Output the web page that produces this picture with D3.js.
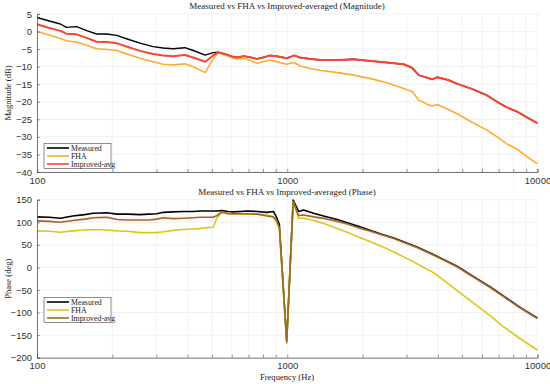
<!DOCTYPE html>
<html>
<head>
<meta charset="utf-8">
<script src="https://d3js.org/d3.v7.min.js"></script>
<style>
body{margin:0;background:#fff;}
svg{display:block;}
</style>
</head>
<body>
<script>
// magnitude data (dB)
var magFreq = [100,112,124,131,144,158,173,190,208,231,258,291,319,350,390,421,470,506,530,570,609,631,670,710,756,800,855,920,996,1030,1067,1122,1240,1358,1600,1838,2153,2500,2915,3152,3350,3600,3795,3980,4400,4788,5500,6255,6900,7540,8290,9000,9980];
var magImproved = [2.1,1.0,0.2,-0.6,-0.8,-1.8,-2.9,-3.0,-3.3,-4.4,-5.5,-6.4,-6.8,-7.0,-6.7,-7.4,-8.6,-6.8,-5.9,-6.5,-7.2,-7.4,-7.0,-7.3,-7.8,-7.4,-6.8,-7.1,-7.6,-7.2,-6.8,-7.4,-7.8,-8.1,-8.1,-7.9,-8.4,-8.8,-9.3,-10.3,-12.4,-13.1,-13.6,-13.0,-13.8,-14.9,-16.4,-18.1,-20.0,-21.6,-22.8,-24.3,-26.1];
var magMeasured = [4.0,3.0,2.15,1.2,1.4,0.25,-0.7,-0.7,-1.1,-2.2,-3.3,-4.3,-4.7,-4.9,-4.6,-5.4,-6.7,-6.0,-5.9,-6.5,-7.2,-7.4,-7.0,-7.3,-7.8,-7.4,-6.8,-7.1,-7.6,-7.2,-6.8,-7.4,-7.8,-8.1,-8.1,-7.9,-8.4,-8.8,-9.3,-10.3,-12.4,-13.1,-13.6,-13.0,-13.8,-14.9,-16.4,-18.1,-20.0,-21.6,-22.8,-24.3,-26.1];
var magFHA = [0,-1.0,-2.0,-2.6,-3.0,-3.9,-4.9,-5.1,-5.4,-6.5,-7.6,-8.6,-9.3,-9.5,-9.2,-10.0,-11.7,-7.8,-6.0,-6.8,-7.6,-7.9,-7.6,-8.2,-9.0,-8.6,-8.1,-8.7,-9.3,-9.0,-8.8,-9.8,-10.5,-11.1,-11.7,-12.4,-13.4,-14.6,-16.2,-17.1,-19.5,-20.6,-21.2,-20.8,-22.2,-23.5,-25.9,-28.0,-30.0,-32.0,-33.5,-35.5,-37.7];

// phase data (deg)
var phFreq = [100,112,124,139,155,168,190,209,230,258,280,301,320,350,385,420,450,470,506,524,548,580,610,650,690,760,830,880,905,930,995,1056,1110,1163,1275,1420,1583,1737,1950,2153,2400,2666,3000,3300,3855,4300,4790,5760,6500,7300,8540,9980];
var phMeasured = [112,111,109,114,117,120,121,118,118,117,118,119,122,123,124,124,125,125,125,125,126,124,123,124,125,124,122,124,112,95,-163,149,124,127,120,113,106,99,90,82,73,65,54,45,28,15,2,-26,-44,-63,-89,-112];
var phImproved = [103,102,100,104,107,110,111,106,105,105,105,107,110,108,109,110,111,111,111,115,123,119,119,119,119,118,114,112,105,88,-165,146,115,116,112,108,102,96,87,80,72,64,53,44,27,14,1,-27,-45,-64,-90,-113];
var phFHA = [81,80,78,81,83,84,83,81,80,77,77,77,79,82,84,85,86,88,89,110,121,120,118,118,118,118,116,112,100,86,-168,146,109,109,104,96,86,78,66,57,46,34,20,8,-12,-32,-52,-86,-108,-131,-158,-183];

var magTicks = [5,0,-5,-10,-15,-20,-25,-30,-35,-40];
var phTicks = [150,100,50,0,-50,-100,-150,-200];
var legendNames = ["Measured","FHA","Improved-avg"];

var W = 550, H = 384;
var svg = d3.select("body").append("svg").attr("width", W).attr("height", H);

var x = d3.scaleLog().domain([100,10000]).range([37,537.5]);
var minorTicks = [];
[100,1000].forEach(function(dec){
    for(var k=1;k<10;k++){ minorTicks.push(dec*k); }
});
minorTicks.push(10000);

function drawPanel(opt){
    var y = d3.scaleLinear().domain(opt.domain).range([opt.bottom, opt.top]);
    var g = svg.append("g");

    // grid
    g.selectAll("line.gy").data(opt.ticks).enter().append("line")
        .attr("x1", x.range()[0]).attr("x2", x.range()[1])
        .attr("y1", function(d){return y(d);}).attr("y2", function(d){return y(d);})
        .attr("stroke", "#e9e9e9").attr("stroke-width", 0.7);
    g.selectAll("line.gx").data(minorTicks).enter().append("line")
        .attr("x1", function(d){return x(d);}).attr("x2", function(d){return x(d);})
        .attr("y1", opt.top).attr("y2", opt.bottom)
        .attr("stroke", "#ececec").attr("stroke-width", 0.7);

    // faint band round the averaged curve
    if(opt.band){
        var area = d3.area()
            .x(function(d,i){return x(opt.freq[i]);})
            .y0(function(d){return y(d[0]);})
            .y1(function(d){return y(d[1]);});
        var imp = opt.series[2].values;
        var bandData = opt.freq.map(function(f,i){
            return [imp[i]-8, imp[i]+8];
        });
        g.append("path").attr("d", area(bandData))
            .attr("fill", "#ff4fc8").attr("fill-opacity", 0.05);
    }

    // lines
    var line = d3.line()
        .x(function(d,i){return x(opt.freq[i]);})
        .y(function(d){return y(d);});
    opt.series.forEach(function(s){
        g.append("path").attr("d", line(s.values))
            .attr("fill", "none").attr("stroke", s.colour)
            .attr("stroke-width", s.w || 1.6).attr("stroke-linejoin", "round");
    });

    // axes
    var yAxis = d3.axisLeft(y).tickValues(opt.ticks).tickSize(-3).tickPadding(5)
        .tickFormat(function(d){return d3.format("")(d).replace("-", "\u2212");});
    var ya = g.append("g").attr("transform", "translate(" + x.range()[0] + ",0)").call(yAxis);
    var xAxis = d3.axisBottom(x).tickValues(minorTicks).tickSize(-3).tickPadding(5)
        .tickFormat(function(d){return (d==100||d==1000||d==10000) ? d : "";});
    var xa = g.append("g").attr("transform", "translate(0," + opt.bottom + ")").call(xAxis);
    [ya, xa].forEach(function(a){
        a.select(".domain").attr("stroke", "#555").attr("stroke-width", 0.8);
        a.selectAll(".tick line").attr("stroke", "#555").attr("stroke-width", 0.6);
        a.selectAll(".tick text").attr("fill", "#333")
            .style("font-family", "'Liberation Sans', Arial, sans-serif").style("font-size", "9.5px");
    });

    // title
    g.append("text").attr("x", 287).attr("y", opt.top - 5).attr("text-anchor", "middle")
        .style("font-family", "'Liberation Serif', 'Times New Roman', serif").style("font-size", "9px")
        .attr("fill", "#222").text(opt.title);
    // y label
    g.append("text").attr("transform", "translate(11," + ((opt.top+opt.bottom)/2) + ") rotate(-90)")
        .attr("text-anchor", "middle")
        .style("font-family", "'Liberation Serif', 'Times New Roman', serif").style("font-size", "8.6px")
        .attr("fill", "#222").text(opt.ylabel);

    // legend
    var lg = g.append("g").attr("transform", "translate(44," + opt.legendY + ")");
    lg.append("rect").attr("width", 67).attr("height", 25)
        .attr("fill", "#fff").attr("stroke", "#444").attr("stroke-width", 0.6);
    opt.series.forEach(function(s,i){
        var yy = 4.5 + i*8;
        lg.append("line").attr("x1", 3).attr("x2", 25).attr("y1", yy).attr("y2", yy)
            .attr("stroke", s.colour).attr("stroke-width", 1.6);
        lg.append("text").attr("x", 27).attr("y", yy + 2.6)
            .style("font-family", "'Liberation Serif', 'Times New Roman', serif").style("font-size", "7.8px")
            .attr("fill", "#222").text(legendNames[i]);
    });
}

drawPanel({
    top: 14, bottom: 172, domain: [-40,5], ticks: magTicks, freq: magFreq,
    title: "Measured vs FHA vs Improved-averaged (Magnitude)", ylabel: "Magnitude (dB)",
    legendY: 143.5, band: false,
    series: [
        {values: magMeasured, colour: "#000000", w: 1.4},
        {values: magFHA, colour: "#ffab33"},
        {values: magImproved, colour: "#f7462f", w: 2.0}
    ]
});

drawPanel({
    top: 199.7, bottom: 357.7, domain: [-200,150], ticks: phTicks, freq: phFreq,
    title: "Measured vs FHA vs Improved-averaged (Phase)", ylabel: "Phase (deg)",
    legendY: 297.5, band: true,
    series: [
        {values: phMeasured, colour: "#000000"},
        {values: phFHA, colour: "#dcc61c"},
        {values: phImproved, colour: "#9b6b21"}
    ]
});

// x label
svg.append("text").attr("x", 287).attr("y", 380).attr("text-anchor", "middle")
    .style("font-family", "'Liberation Serif', 'Times New Roman', serif").style("font-size", "8.6px")
    .attr("fill", "#222").text("Frequency (Hz)");
</script>
</body>
</html>
